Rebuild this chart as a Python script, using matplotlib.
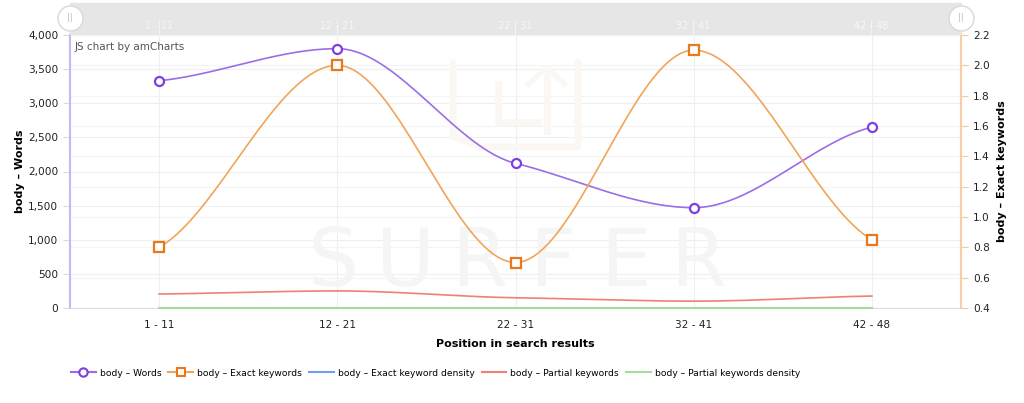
import numpy as np
import matplotlib.pyplot as plt
from matplotlib.patches import Rectangle
from matplotlib.lines import Line2D

categories = ['1 - 11', '12 - 21', '22 - 31', '32 - 41', '42 - 48']
words = [3330, 3800, 2120, 1470, 2650]
exact_keywords = [0.80, 2.00, 0.70, 2.10, 0.85]
exact_density = [2, 2, 2, 2, 2]
partial_keywords = [205, 250, 150, 100, 175]
partial_density = [4, 4, 4, 4, 4]

c_words = '#9a6ee8'
c_words_mk = '#7c3fe0'
c_exact = '#f0a55a'
c_exact_mk = '#e8781c'
c_blue = '#6e9ff0'
c_red = '#f07f74'
c_green = '#a5dc9c'


def smooth(x, y, n=40, k=0.55):
    # bezier through the points, flat at peaks and dips (like amCharts smoothed lines)
    x = np.asarray(x, float)
    y = np.asarray(y, float)
    m = len(x)
    slope = np.zeros(m)
    for i in range(m):
        a = max(i - 1, 0)
        b = min(i + 1, m - 1)
        if 0 < i < m - 1 and (y[i] - y[a]) * (y[b] - y[i]) <= 0:
            slope[i] = 0
        else:
            slope[i] = k * (y[b] - y[a]) / (x[b] - x[a])
    xs, ys = [], []
    for i in range(m - 1):
        h = x[i + 1] - x[i]
        c1 = (x[i] + h / 3, y[i] + slope[i] * h / 3)
        c2 = (x[i + 1] - h / 3, y[i + 1] - slope[i + 1] * h / 3)
        t = np.linspace(0, 1, n)
        bx = (1-t)**3*x[i] + 3*(1-t)**2*t*c1[0] + 3*(1-t)*t**2*c2[0] + t**3*x[i+1]
        by = (1-t)**3*y[i] + 3*(1-t)**2*t*c1[1] + 3*(1-t)*t**2*c2[1] + t**3*y[i+1]
        xs.extend(bx)
        ys.extend(by)
    return np.array(xs), np.array(ys)


plt.rcParams['font.family'] = ['DejaVu Sans']
fig = plt.figure(figsize=(10.24, 4.03), dpi=100)
ax = fig.add_axes([70/1024, 1 - 308/403, 891/1024, 273/403])
ax2 = ax.twinx()

x = np.arange(len(categories))
ax.set_xlim(-0.5, len(categories) - 0.5)
ax.set_ylim(0, 4000)
ax2.set_ylim(0.4, 2.2)

left_ticks = np.arange(0, 4001, 500)
right_ticks = np.arange(0.4, 2.21, 0.2)

# grids (all drawn on the left axes so they stay under the lines)
for v in left_ticks:
    ax.axhline(v, color='#efefef', lw=0.8, zorder=0)
for v in right_ticks:
    ax.axhline((v - 0.4) / 1.8 * 4000, color='#f4f4f4', lw=0.8, zorder=0)
for xi in x:
    ax.axvline(xi, color='#efefef', lw=0.8, zorder=0)

# watermark
for i, ch in enumerate('SURFER'):
    ax.text(0.5 + (i - 2.5) * 0.082, 0.16, ch, transform=ax.transAxes, ha='center',
            va='center', fontsize=58, color='#f5f5f5', zorder=0.5)
wm = '#fbf7f3'
ax.plot([0.43, 0.43, 0.46, 0.57, 0.57], [0.9, 0.63, 0.59, 0.59, 0.9], transform=ax.transAxes,
        color=wm, lw=5, zorder=0.5, solid_capstyle='round')
ax.plot([0.48, 0.48, 0.525], [0.82, 0.68, 0.68], transform=ax.transAxes,
        color=wm, lw=5, zorder=0.5)
ax.plot([0.535, 0.535], [0.65, 0.86], transform=ax.transAxes, color=wm, lw=5, zorder=0.5)
ax.plot([0.515, 0.535, 0.555], [0.82, 0.88, 0.82], transform=ax.transAxes, color=wm, lw=4, zorder=0.5)

sx, sy = smooth(x, exact_density)
ax.plot(sx, sy, color=c_blue, lw=1.2, zorder=2.6, clip_on=False)
sx, sy = smooth(x, partial_density)
ax.plot(sx, sy, color=c_green, lw=1.5, zorder=2.7, clip_on=False)
sx, sy = smooth(x, partial_keywords)
ax.plot(sx, sy, color=c_red, lw=1.2, zorder=2)
sx, sy = smooth(x, words)
ax.plot(sx, sy, color=c_words, lw=1.2, zorder=3)
ax.plot(x, words, 'o', ms=6.5, mfc='white', mec=c_words_mk, mew=1.6, zorder=4)

sx, sy = smooth(x, exact_keywords)
ax2.plot(sx, sy, color=c_exact, lw=1.2, zorder=3)
ax2.plot(x, exact_keywords, 's', ms=6.5, mfc='white', mec=c_exact_mk, mew=1.6, zorder=4)

ax.set_yticks(left_ticks)
ax.set_yticklabels(['{:,}'.format(int(v)) for v in left_ticks])
ax2.set_yticks(right_ticks)
ax2.set_yticklabels(['{:.1f}'.format(v) for v in right_ticks])
ax.set_xticks(x)
ax.set_xticklabels(categories)

for a in (ax, ax2):
    a.tick_params(labelsize=7.6, colors='#222222', length=5, width=0.8)
    for s in a.spines.values():
        s.set_visible(False)
ax.tick_params(axis='x', length=0, pad=9)
ax.tick_params(axis='y', color='#dcdcdc')
ax2.tick_params(axis='y', color='#f5c99b')
ax.spines['left'].set_visible(True)
ax.spines['left'].set_color('#c9b6f2')
ax.spines['left'].set_linewidth(1.5)
ax2.spines['right'].set_visible(True)
ax2.spines['right'].set_color('#f6cfa6')
ax2.spines['right'].set_linewidth(1.5)
ax.spines['bottom'].set_visible(True)
ax.spines['bottom'].set_color('#dddddd')

ax.set_ylabel('body – Words', fontsize=8, fontweight='bold', labelpad=2)
ax2.set_ylabel('body – Exact keywords', fontsize=8, fontweight='bold', labelpad=5)
ax.set_xlabel('Position in search results', fontsize=8, fontweight='bold', labelpad=6)

ax.text(0.005, 0.955, 'JS chart by amCharts', transform=ax.transAxes,
        fontsize=7.5, color='#555555', ha='left', va='center')

# scrollbar
fig.patches.append(Rectangle((70/1024, 1 - 34/403), 891/1024, 31/403,
                             transform=fig.transFigure, color='#e6e6e6', zorder=0))
for i, c in enumerate(categories):
    fx = (70 + 178 * (i + 0.5)) / 1024
    fig.text(fx, 1 - 26/403, c, color='#f7f7f7', fontsize=7, ha='center', va='center')
    fig.lines.append(Line2D([fx, fx], [1 - 34/403, 1 - 20/403], transform=fig.transFigure,
                            color='#f2f2f2', lw=0.8))
for hx in (70, 961):
    fig.lines.append(Line2D([hx/1024], [1 - 18/403], transform=fig.transFigure, marker='o',
                            ms=18, mfc='white', mec='#d8d8d8', mew=1, zorder=5))
    fig.text(hx/1024, 1 - 18/403, '||', ha='center', va='center', fontsize=6,
             color='#bbbbbb', zorder=6)

# legend
handles = [
    Line2D([], [], color=c_words, marker='o', mfc='white', mec=c_words_mk, mew=1.5, ms=6),
    Line2D([], [], color=c_exact, marker='s', mfc='white', mec=c_exact_mk, mew=1.5, ms=6),
    Line2D([], [], color=c_blue, lw=1.5),
    Line2D([], [], color=c_red, lw=1.5),
    Line2D([], [], color=c_green, lw=1.5),
]
labels = ['body – Words', 'body – Exact keywords', 'body – Exact keyword density',
          'body – Partial keywords', 'body – Partial keywords density']
fig.legend(handles, labels, loc='center left', bbox_to_anchor=(71/1024, 1 - 373/403),
           ncol=5, frameon=False, fontsize=6.6, handlelength=2.7, columnspacing=0.75,
           handletextpad=0.45, borderpad=0, borderaxespad=0)

fig.savefig('out.png', dpi=100)
